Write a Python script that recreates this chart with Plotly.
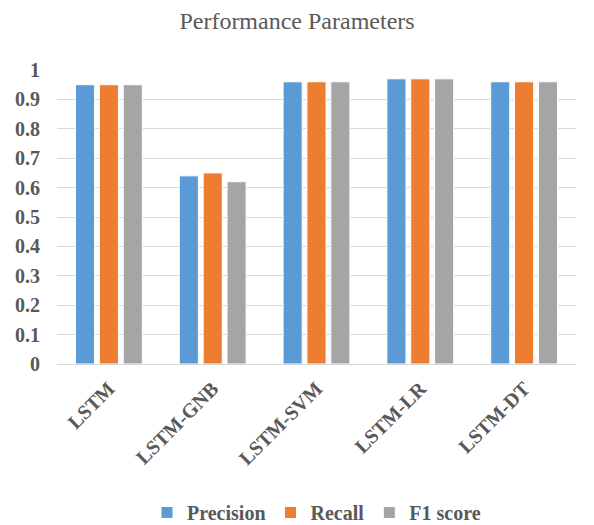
import plotly.graph_objects as go

categories = ["LSTM", "LSTM-GNB", "LSTM-SVM", "LSTM-LR", "LSTM-DT"]
precision = [0.95, 0.64, 0.96, 0.97, 0.96]
recall = [0.95, 0.65, 0.96, 0.97, 0.96]
f1_score = [0.95, 0.62, 0.96, 0.97, 0.96]
y_ticks = [0, 0.1, 0.2, 0.3, 0.4, 0.5, 0.6, 0.7, 0.8, 0.9, 1]
y_tick_labels = ["0", "0.1", "0.2", "0.3", "0.4", "0.5", "0.6", "0.7", "0.8", "0.9", "1"]

series = [
    ("Precision", precision, "#5b9bd5"),
    ("Recall", recall, "#ed7d31"),
    ("F1 score", f1_score, "#a5a5a5"),
]

fig = go.Figure()
for name, vals, color in series:
    fig.add_trace(go.Bar(
        x=categories, y=vals, name=name,
        marker=dict(color=color, line=dict(color="white", width=1)),
    ))

font_family = "'Liberation Serif', serif"
text_color = "#595959"

fig.update_layout(
    width=594, height=525,
    margin=dict(l=57, r=18, t=70, b=161, autoexpand=False),
    paper_bgcolor="white", plot_bgcolor="white",
    barmode="group", bargap=0.31, bargroupgap=0.2,
    title=dict(text="Performance Parameters", x=0.5, xanchor="center",
               y=1 - 21 / 525, yanchor="middle",
               font=dict(family=font_family, size=24, color=text_color)),
    font=dict(family=font_family, color=text_color),
    legend=dict(orientation="h", x=0.5, xanchor="center", y=-0.505, yanchor="middle",
                font=dict(family=font_family, size=20, color=text_color, weight="bold"),
                itemwidth=30, traceorder="normal"),
    showlegend=True,
)
fig.update_xaxes(
    tickangle=-45, showgrid=False, showline=True, linecolor="#d9d9d9", linewidth=1,
    ticks="", automargin=False, ticklabelstandoff=4,
    tickfont=dict(family=font_family, size=20, color=text_color, weight="bold"),
)
fig.update_yaxes(
    range=[0, 1], tickvals=y_ticks, ticktext=y_tick_labels,
    showgrid=True, gridcolor="#d9d9d9", gridwidth=1, zeroline=False, showline=False,
    ticks="", ticklabelstandoff=16, automargin=False,
    tickfont=dict(family=font_family, size=20, color=text_color, weight="bold"),
)

fig.write_html("out.html")
